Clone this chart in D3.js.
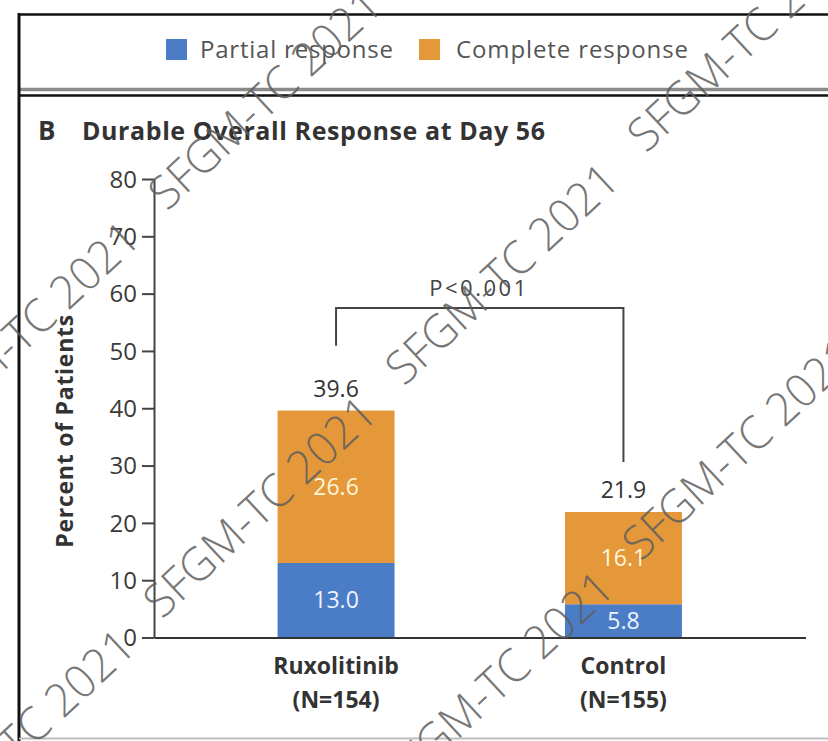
<!DOCTYPE html>
<html>
<head>
<meta charset="utf-8">
<script src="https://cdn.jsdelivr.net/npm/d3@7"></script>
<style>
  html, body { margin: 0; padding: 0; background: #fff; }
  svg { display: block; font-family: "Open Sans", Lato, "DejaVu Sans", sans-serif; }
</style>
</head>
<body>
<svg id="chart" width="828" height="741"></svg>
<script>
// ---- data ----
const categories = ["Ruxolitinib", "Control"];
const groupSizes = ["(N=154)", "(N=155)"];
const seriesNames = ["Partial response", "Complete response"];
const partialResponse = [13.0, 5.8];
const completeResponse = [26.6, 16.1];
const overallResponse = [39.6, 21.9];
const yTicks = [0, 10, 20, 30, 40, 50, 60, 70, 80];
const panelLetter = "B";
const panelTitle = "Durable Overall Response at Day 56";
const yAxisTitle = "Percent of Patients";
const pValueText = "P<0.001";
const bracketTop = 57.5;          // level of the comparison bracket (percent)
const bracketFeet = [50.9, 30.6]; // where each bracket leg stops (percent)
const stampText = "SFGM-TC 2021";

// ---- styling / layout ----
const palette = { "Partial response": "#4b7dc6", "Complete response": "#e4983a" };
const inBarText = { "Partial response": "#eef3ff", "Complete response": "#fff5d8" };
const plot = { left: 154, right: 805.5, top: 179, bottom: 637.5 };

const svg = d3.select("#chart");

// frame around the legend strip and the panel
const frame = svg.append("g");
frame.append("line").attr("x1", 19).attr("x2", 828).attr("y1", 14.5).attr("y2", 14.5)
  .attr("stroke", "#111").attr("stroke-width", 2.5);
frame.append("line").attr("x1", 19).attr("x2", 828).attr("y1", 89.5).attr("y2", 89.5)
  .attr("stroke", "#8a8a8a").attr("stroke-width", 3.5);
frame.append("line").attr("x1", 19).attr("x2", 828).attr("y1", 95.5).attr("y2", 95.5)
  .attr("stroke", "#111").attr("stroke-width", 2.5);
frame.append("line").attr("x1", 19).attr("x2", 19).attr("y1", 13).attr("y2", 741)
  .attr("stroke", "#111").attr("stroke-width", 3);
frame.append("line").attr("x1", 19).attr("x2", 828).attr("y1", 738.5).attr("y2", 738.5)
  .attr("stroke", "#bdbdbd").attr("stroke-width", 2);

// legend
const legendPos = [{ box: 166, text: 200, len: 193 }, { box: 419, text: 456, len: 232 }];
const legend = svg.append("g");
seriesNames.forEach((name, i) => {
  legend.append("rect").attr("x", legendPos[i].box).attr("y", 39).attr("width", 21).attr("height", 21)
    .attr("fill", palette[name]);
  legend.append("text").attr("x", legendPos[i].text).attr("y", 58)
    .attr("font-size", 24).attr("fill", "#555")
    .attr("textLength", legendPos[i].len)
    .text(name);
});

// panel title
svg.append("text").attr("x", 38).attr("y", 140).attr("font-size", 26).attr("font-weight", 700)
  .attr("fill", "#333").text(panelLetter);
svg.append("text").attr("x", 82).attr("y", 140).attr("font-size", 25).attr("font-weight", 700)
  .attr("fill", "#333").attr("textLength", 463).text(panelTitle);

// scales
const x = d3.scaleBand().domain(categories)
  .range([plot.left, plot.right]).paddingInner(0.593).paddingOuter(0.43);
const y = d3.scaleLinear().domain([0, 80]).range([plot.bottom, plot.top]);

// stacked bars
const rows = categories.map((c, i) => ({
  category: c,
  "Partial response": partialResponse[i],
  "Complete response": completeResponse[i]
}));
const stacked = d3.stack().keys(seriesNames)(rows);

const barG = svg.append("g");
stacked.forEach(layer => {
  const g = barG.append("g").attr("fill", palette[layer.key]);
  g.selectAll("rect").data(layer).join("rect")
    .attr("x", d => x(d.data.category))
    .attr("width", x.bandwidth())
    .attr("y", d => y(d[1]))
    .attr("height", d => y(d[0]) - y(d[1]));
  // segment values
  barG.append("g").selectAll("text").data(layer).join("text")
    .attr("x", d => x(d.data.category) + x.bandwidth() / 2)
    .attr("y", d => (y(d[0]) + y(d[1])) / 2 + 8)
    .attr("text-anchor", "middle")
    .attr("font-size", 23)
    .attr("fill", inBarText[layer.key])
    .text(d => d3.format(".1f")(d[1] - d[0]));
});

// totals above bars
svg.append("g").selectAll("text").data(categories).join("text")
  .attr("x", c => x(c) + x.bandwidth() / 2)
  .attr("y", (c, i) => y(overallResponse[i]) - 14)
  .attr("text-anchor", "middle")
  .attr("font-size", 23)
  .attr("fill", "#333")
  .text((c, i) => d3.format(".1f")(overallResponse[i]));

// y axis
const yAxis = svg.append("g").attr("transform", `translate(${plot.left},0)`)
  .call(d3.axisLeft(y).tickValues(yTicks).tickSize(12).tickSizeOuter(0).tickPadding(5));
yAxis.select(".domain").attr("stroke", "#444").attr("stroke-width", 2);
yAxis.selectAll(".tick line").attr("stroke", "#444").attr("stroke-width", 2);
yAxis.selectAll(".tick text").attr("font-size", 24).attr("fill", "#3a3a3a")
  .attr("font-family", "\"Open Sans\", Lato, sans-serif").attr("dy", "0.34em");

svg.append("text")
  .attr("transform", `translate(73,${(y(0) + y(80)) / 2 + 23}) rotate(-90)`)
  .attr("text-anchor", "middle")
  .attr("font-size", 23).attr("font-weight", 700).attr("fill", "#333")
  .attr("textLength", 233)
  .text(yAxisTitle);

// x axis
const xAxis = svg.append("g").attr("transform", `translate(0,${plot.bottom})`)
  .call(d3.axisBottom(x).tickSize(0).tickSizeOuter(0).tickFormat(""));
xAxis.select(".domain").attr("stroke", "#333").attr("stroke-width", 2);

const catLabels = svg.append("g").selectAll("text").data(categories).join("text")
  .attr("text-anchor", "middle")
  .attr("font-size", 23).attr("font-weight", 700).attr("fill", "#333");
catLabels.append("tspan")
  .attr("x", c => x(c) + x.bandwidth() / 2).attr("y", 674)
  .text(c => c);
catLabels.append("tspan")
  .attr("x", c => x(c) + x.bandwidth() / 2).attr("y", 708)
  .text((c, i) => groupSizes[i]);

// comparison bracket
const cx = categories.map(c => x(c) + x.bandwidth() / 2);
svg.append("path")
  .attr("d", d3.line()([
    [cx[0], y(bracketFeet[0])], [cx[0], y(bracketTop)],
    [cx[1], y(bracketTop)], [cx[1], y(bracketFeet[1])]
  ]))
  .attr("fill", "none").attr("stroke", "#444").attr("stroke-width", 2);
svg.append("text")
  .attr("x", (cx[0] + cx[1]) / 2 - 2).attr("y", y(bracketTop) - 12)
  .attr("text-anchor", "middle")
  .attr("font-size", 22).attr("fill", "#444")
  .attr("textLength", 97)
  .text(pValueText);

// diagonal stamp repeated across the figure
const stampOrigin = [162, 620], stepAlong = [242, -233], stepAcross = [-5, 408];
const stamps = svg.append("g").attr("pointer-events", "none");
for (let r = -1; r <= 1; r++) {
  for (let c = -1; c <= 3; c++) {
    const sx = stampOrigin[0] + c * stepAlong[0] + r * stepAcross[0];
    const sy = stampOrigin[1] + c * stepAlong[1] + r * stepAcross[1];
    if (sx > 828 || sy < -300 || sy > 1050) continue;
    stamps.append("text")
      .attr("transform", `translate(${sx},${sy}) rotate(-43)`)
      .attr("font-size", 46).attr("font-weight", 300)
      .attr("fill", "#5e5e5e").attr("fill-opacity", 0.85)
      .attr("textLength", 298).attr("lengthAdjust", "spacingAndGlyphs")
      .text(stampText);
  }
}
</script>
</body>
</html>
